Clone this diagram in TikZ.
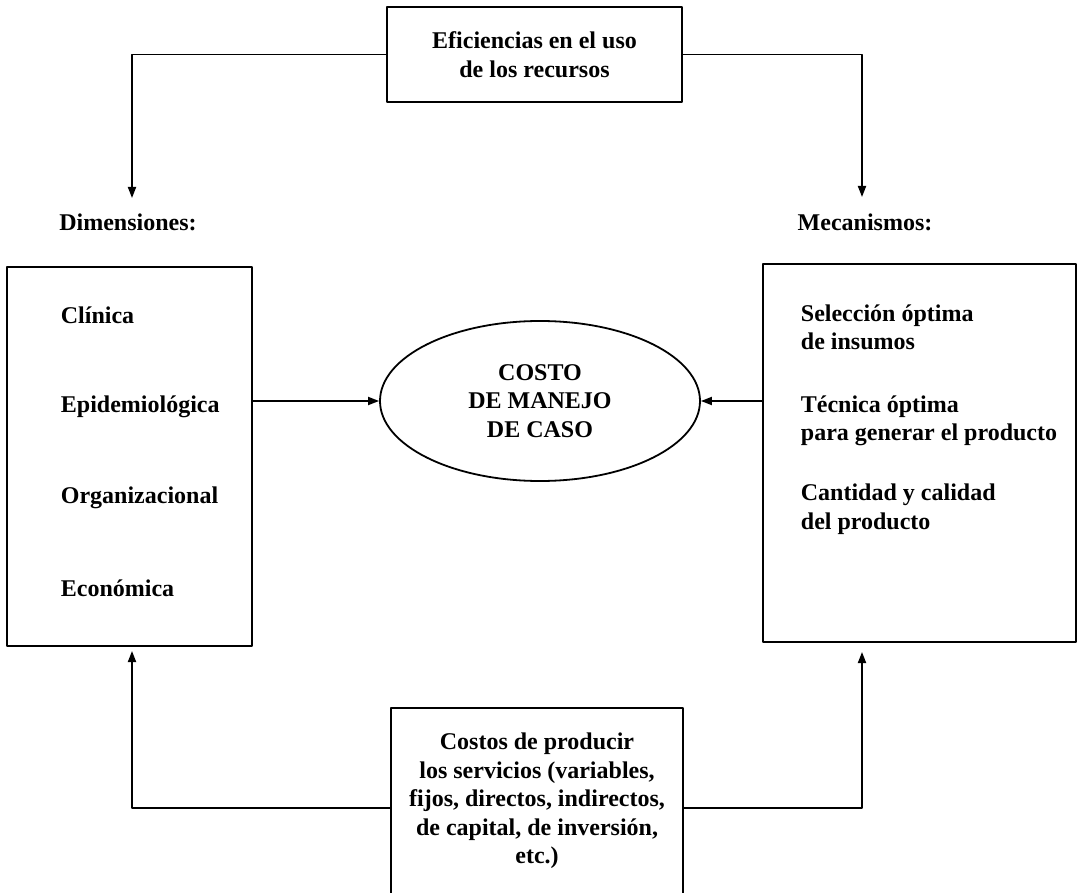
\documentclass[tikz,border=0pt]{standalone}
\usepackage{fontspec}
\setmainfont{Liberation Serif}
\usepackage{tikz}
\usetikzlibrary{arrows.meta}
\usetikzlibrary{shapes.geometric}

\begin{document}
\begin{tikzpicture}[line cap=round,line join=round,>={Triangle[length=11pt,width=8pt]},x=1pt,y=-1pt, line width=1.8pt, font=\fontsize{24}{28.5}\selectfont\bfseries, box/.style={draw, rectangle, inner sep=0pt}, item/.style={anchor=west, align=left, inner sep=0pt}, lab/.style={inner sep=0pt}]
                    \useasboundingbox (0,0) rectangle (1077,893);

                    \node[box, minimum width=295, minimum height=95, align=center] (efic) at (534.5,54.5) {Eficiencias en el uso\\de los recursos};

                    \node[lab] (dimlab) at (128,222) {Dimensiones:};
                    \node[lab] (meclab) at (865,222) {Mecanismos:};
                    \coordinate (dimtip) at (132,198);
                    \coordinate (mectip) at (862,197);

                    \node[box, minimum width=245, minimum height=379] (dim) at (129.5,456.5) {};
                    \node[item] (d1) at (60,315) {Clínica};
                    \node[item] (d2) at (60,407) {Epidemiológica};
                    \node[item] (d3) at (60,498) {Organizacional};
                    \node[item] (d4) at (60,588) {Económica};

                    \node[box, minimum width=313, minimum height=378] (mec) at (919.5,453) {};
                    \node[item] (m1) at (800,327.5) {Selección óptima\\de insumos};
                    \node[item] (m2) at (800,421) {Técnica óptima\\para generar el producto};
                    \node[item] (m3) at (800,509) {Cantidad y calidad\\del producto};

                    \node[ellipse, draw, minimum width=320, minimum height=160, inner sep=0pt, align=center] (costo) at (540,401) {COSTO\\DE MANEJO\\DE CASO};

                    \node[box, anchor=north, minimum width=292, inner ysep=25pt, text depth=20pt, align=center] (costos) at (537,707) {Costos de producir\\los servicios (variables,\\fijos, directos, indirectos,\\de capital, de inversión,\\etc.)};
                    \coordinate (dimbot) at (132,651);
                    \coordinate (mecbot) at (862,652);

                    \draw [->] (efic.west) -| (dimtip);
                    \draw [->] (efic.east) -| (mectip);
                    \draw [->] (dim.east |- costo.west) -- (costo.west);
                    \draw [->] (mec.west |- costo.east) -- (costo.east);
                    \draw [->] (costos.west) -| (dimbot);
                    \draw [->] (costos.east) -| (mecbot);
                \end{tikzpicture}
\end{document}
